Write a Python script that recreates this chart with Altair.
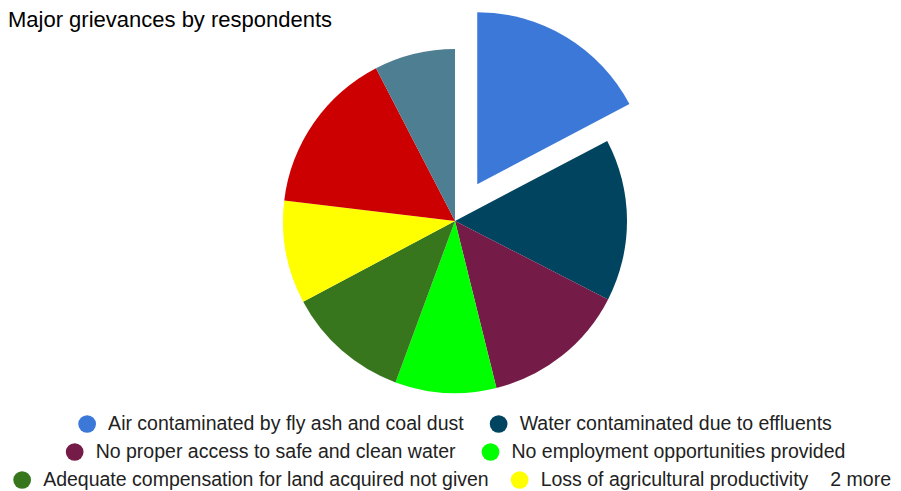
import math
import altair as alt
import pandas as pd

# ---------------- data ----------------
title_text = "Major grievances by respondents"
categories = [
    "Air contaminated by fly ash and coal dust",
    "Water contaminated due to effluents",
    "No proper access to safe and clean water",
    "No employment opportunities provided",
    "Adequate compensation for land acquired not given",
    "Loss of agricultural productivity",
    "Other grievance 1",
    "Other grievance 2",
]
values = [17.3, 15.25, 13.6, 9.5, 11.6, 9.7, 15.5, 7.6]
colors = ["#3c78d8", "#01445f", "#741b47", "#00ff00",
          "#38761d", "#ffff00", "#cc0000", "#4e7e91"]
more_text = "2 more"

# ---------------- layout ----------------
W, H = 885, 483
CX, CY, R = 447, 213, 172
EXPLODE = 43
FONT = "Liberation Sans, Arial, sans-serif"
LEG_FS = 19.5
ROW_Y = [416, 444, 472]
ROW_CENTER = 447

# Arial / Liberation Sans advance widths (1/1000 em)
AW = {' ': 278, 'A': 667, 'W': 944, 'N': 722, 'L': 556, '2': 556,
      'a': 556, 'b': 556, 'c': 500, 'd': 556, 'e': 556, 'f': 278, 'g': 556,
      'h': 556, 'i': 222, 'j': 222, 'k': 500, 'l': 222, 'm': 833, 'n': 556,
      'o': 556, 'p': 556, 'q': 556, 'r': 333, 's': 500, 't': 278, 'u': 556,
      'v': 500, 'w': 722, 'x': 500, 'y': 500, 'z': 500}


def tw(s, fs):
    return sum(AW.get(ch, 556) for ch in s) / 1000.0 * fs


pie_df = pd.DataFrame({"category": categories, "value": values,
                       "idx": list(range(len(categories)))})

# explode offset of the first slice along its mid angle
mid = values[0] / sum(values) * math.pi
ex_x = CX + EXPLODE * math.sin(mid)
ex_y = CY - EXPLODE * math.cos(mid)

color_scale = alt.Scale(domain=categories, range=colors)

base = alt.Chart(pie_df).encode(
    theta=alt.Theta("value:Q", stack=True),
    order=alt.Order("idx:Q"),
    color=alt.Color("category:N", scale=color_scale, legend=None),
)
rest = base.mark_arc(outerRadius=R).encode(
    x=alt.value(CX), y=alt.value(CY),
    opacity=alt.condition("datum.idx == 0", alt.value(0), alt.value(1)),
)
exploded = base.mark_arc(outerRadius=R).encode(
    x=alt.value(ex_x), y=alt.value(ex_y),
    opacity=alt.condition("datum.idx == 0", alt.value(1), alt.value(0)),
)

# ---------------- legend (computed layout) ----------------
leg_rows = []
pairs = [(0, 1), (2, 3), (4, 5)]
more_rec = None
for r, pair in enumerate(pairs):
    last = r == len(pairs) - 1
    widths = [tw(categories[i], LEG_FS) for i in pair]
    gap, more_gap = 25, 27

    def row_total(g, mg):
        t = sum(31 + w for w in widths) + g * (len(widths) - 1)
        if last:
            t += mg + tw(more_text, LEG_FS)
        return t

    total = row_total(gap, more_gap)
    if total > W - 2:
        gap, more_gap = 21, 22
        total = row_total(gap, more_gap)
    x = ROW_CENTER - total / 2
    x = max(2, min(x, W - 2 - total))
    for k, i in enumerate(pair):
        leg_rows.append({"category": categories[i], "cx": x + 10,
                         "tx": x + 31, "y": ROW_Y[r]})
        x += 31 + widths[k] + gap
    if last:
        more_rec = {"t": more_text, "tx": x - gap + more_gap, "y": ROW_Y[r]}

leg_df = pd.DataFrame(leg_rows)

leg_pts = alt.Chart(leg_df).mark_circle(size=314, opacity=1).encode(
    x=alt.X("cx:Q", scale=None), y=alt.Y("y:Q", scale=None),
    color=alt.Color("category:N", scale=color_scale, legend=None),
)
leg_txt = alt.Chart(leg_df).mark_text(
    align="left", baseline="middle", font=FONT, fontSize=LEG_FS, color="#222222"
).encode(x=alt.X("tx:Q", scale=None), y=alt.Y("y:Q", scale=None),
         text="category:N")
more_txt = alt.Chart(pd.DataFrame([more_rec])).mark_text(
    align="left", baseline="middle", font=FONT, fontSize=LEG_FS, color="#222222"
).encode(x=alt.X("tx:Q", scale=None), y=alt.Y("y:Q", scale=None), text="t:N")

title = alt.Chart(pd.DataFrame({"t": [title_text]})).mark_text(
    align="left", baseline="alphabetic", font=FONT, fontSize=22, color="#000000"
).encode(x=alt.value(0), y=alt.value(19), text="t:N")

chart = alt.layer(rest, exploded, leg_pts, leg_txt, more_txt, title).properties(
    width=W, height=H, autosize=alt.AutoSizeParams(type="none"), padding=0
).configure_view(stroke=None)

chart.save("out.html", embed_options={"renderer": "svg", "actions": False})
